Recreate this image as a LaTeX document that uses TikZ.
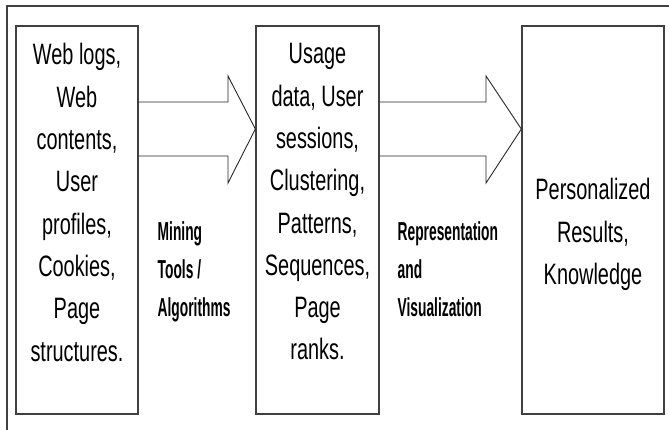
\documentclass[tikz,border=0pt]{standalone}
\usepackage{fontspec}
\setmainfont{Liberation Sans}[FakeStretch=0.675]
\newfontfamily\lblfont{Liberation Sans}[FakeStretch=0.53]
\usetikzlibrary{positioning}
\tikzset{
  box/.style={draw=black!75, line width=1.3pt, inner sep=0pt, minimum height=388pt},
  boxtext/.style={align=center, inner sep=0pt, font=\fontsize{29.5}{42.3}\selectfont},
  lbl/.style={align=left, inner sep=0pt, anchor=north west, font=\lblfont\bfseries\fontsize{26}{38}\selectfont},
  fat/.style={draw=black!85, line width=0.9pt}
}
\begin{document}
\begin{tikzpicture}[x=1pt,y=-1pt]
  \useasboundingbox (0,0) rectangle (669,430);
  \draw[black!75, line width=2pt] (7,430) -- (7,6) -- (669,6);
  \node[box, minimum width=122pt] (logs) at (77,220) {};
  \node[box, minimum width=123pt] (usage) at (317.5,220) {};
  \node[box, minimum width=142pt] (results) at (593,220) {};
  \node[boxtext, below=18pt of logs.north] (logstext) {Web logs,\\Web\\contents,\\User\\profiles,\\Cookies,\\Page\\structures.};
  \node[boxtext, below=18pt of usage.north] (usagetext) {Usage\\data, User\\sessions,\\Clustering,\\Patterns,\\Sequences,\\Page\\ranks.};
  \node[boxtext, below=153pt of results.north] (resultstext) {Personalized\\Results,\\Knowledge};
  \draw[fat] (logs.east |- 0,102) -- (228,102) -- (228,76) -- (usage.west |- 0,129)
    -- (228,183) -- (228,156) -- (logs.east |- 0,156);
  \draw[fat] (usage.east |- 0,102) -- (486,102) -- (486,76) -- (results.west |- 0,129)
    -- (486,183) -- (486,156) -- (usage.east |- 0,156);
  \node[lbl] (mining) at (157.5,221) {Mining\\Tools /\\Algorithms};
  \node[lbl] (repr) at (397.5,221) {Representation\\and\\Visualization};
\end{tikzpicture}
\end{document}
